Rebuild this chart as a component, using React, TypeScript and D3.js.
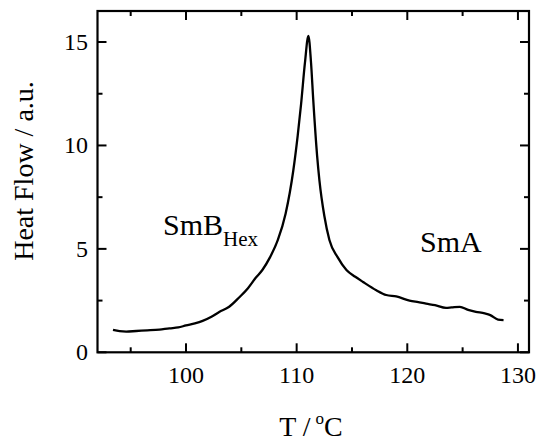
import React from "react";
import * as d3 from "d3";

const temperature: number[] = [
  93.4, 94.0, 94.6, 95.5, 96.5, 97.6, 98.5, 99.3, 100.0, 100.8, 101.5, 102.3, 103.0, 103.9,
  104.8, 105.6, 106.3, 106.9, 107.6, 108.3, 109.0, 109.7, 110.1, 110.4, 110.75, 111.06,
  111.3, 111.5, 111.85, 112.06, 112.5, 112.96, 113.7, 114.5, 115.3, 116.0, 117.2, 118.1,
  119.0, 120.2, 121.0, 121.7, 122.5, 123.5, 124.0, 124.75, 125.5, 126.2, 127.0, 127.5,
  128.2, 128.7,
];
const heatFlow: number[] = [
  1.08, 1.02, 1.0, 1.03, 1.06, 1.1, 1.16, 1.2, 1.3, 1.4, 1.52, 1.72, 1.95, 2.2,
  2.65, 3.1, 3.6, 3.98, 4.6, 5.43, 6.7, 8.8, 10.5, 12.0, 14.0, 15.3,
  14.0, 12.2, 9.5, 8.3, 6.6, 5.43, 4.6, 3.98, 3.65, 3.4, 3.0, 2.77,
  2.7, 2.5, 2.42, 2.35, 2.28, 2.15, 2.17, 2.2, 2.05, 1.96, 1.88, 1.8,
  1.58, 1.56,
];
const xMajorTicks: number[] = [100, 110, 120, 130];
const xMinorTicks: number[] = [95, 105, 115, 125];
const yMajorTicks: number[] = [0, 5, 10, 15];
const yMinorTicks: number[] = [2.5, 7.5, 12.5];

const W = 538;
const H = 445;
const FONT = "'Liberation Serif', 'Times New Roman', serif";

export default function App() {
  const x = d3.scaleLinear().domain([92, 131]).range([97.5, 529]);
  const y = d3.scaleLinear().domain([0, 16.5]).range([352.3, 11]);
  const [x0, x1] = x.range();
  const [y0, y1] = y.range();

  const pts: [number, number][] = temperature.map((t, i) => [t, heatFlow[i]]);
  const line = d3
    .line<[number, number]>()
    .x((d) => x(d[0]))
    .y((d) => y(d[1]))
    .curve(d3.curveMonotoneX);

  const major = 9;
  const minor = 5;

  return (
    <svg
      width={W}
      height={H}
      style={{ position: "absolute", left: 0, top: 0, background: "#fff" }}
      fontFamily={FONT}
    >
      <rect x={0} y={0} width={W} height={H} fill="#fff" />
      <g stroke="#000" strokeWidth={2}>
        {xMajorTicks.map((t) => (
          <g key={"xM" + t}>
            <line x1={x(t)} x2={x(t)} y1={y0} y2={y0 - major} />
            <line x1={x(t)} x2={x(t)} y1={y1} y2={y1 + major} />
          </g>
        ))}
        {xMinorTicks.map((t) => (
          <g key={"xm" + t}>
            <line x1={x(t)} x2={x(t)} y1={y0} y2={y0 - minor} />
            <line x1={x(t)} x2={x(t)} y1={y1} y2={y1 + minor} />
          </g>
        ))}
        {yMajorTicks.map((t) => (
          <g key={"yM" + t}>
            <line x1={x0} x2={x0 + major} y1={y(t)} y2={y(t)} />
            <line x1={x1} x2={x1 - major} y1={y(t)} y2={y(t)} />
          </g>
        ))}
        {yMinorTicks.map((t) => (
          <g key={"ym" + t}>
            <line x1={x0} x2={x0 + minor} y1={y(t)} y2={y(t)} />
            <line x1={x1} x2={x1 - minor} y1={y(t)} y2={y(t)} />
          </g>
        ))}
      </g>
      <rect
        x={x0}
        y={y1}
        width={x1 - x0}
        height={y0 - y1}
        fill="none"
        stroke="#000"
        strokeWidth={2.2}
      />
      <g fontSize={24} fill="#000">
        {xMajorTicks.map((t) => (
          <text key={"xl" + t} x={x(t)} y={383} textAnchor="middle">
            {t}
          </text>
        ))}
        {yMajorTicks.map((t) => (
          <text key={"yl" + t} x={88} y={y(t) + 8} textAnchor="end">
            {t}
          </text>
        ))}
      </g>
      <path d={line(pts) ?? ""} fill="none" stroke="#000" strokeWidth={2.3} strokeLinejoin="round" />
      <text x={163} y={235} fontSize={30} fill="#000">
        SmB
        <tspan fontSize={21} dy={11}>Hex</tspan>
      </text>
      <text x={420} y={252} fontSize={30} fill="#000">
        SmA
      </text>
      <text x={311} y={436} fontSize={28} textAnchor="middle" fill="#000">
        T /
        <tspan fontSize={17} dy={-12} dx={5}>o</tspan>
        <tspan dy={12}>C</tspan>
      </text>
      <text
        transform="translate(33,171) rotate(-90)"
        fontSize={28}
        textAnchor="middle"
        fill="#000"
      >
        Heat Flow / a.u.
      </text>
    </svg>
  );
}
